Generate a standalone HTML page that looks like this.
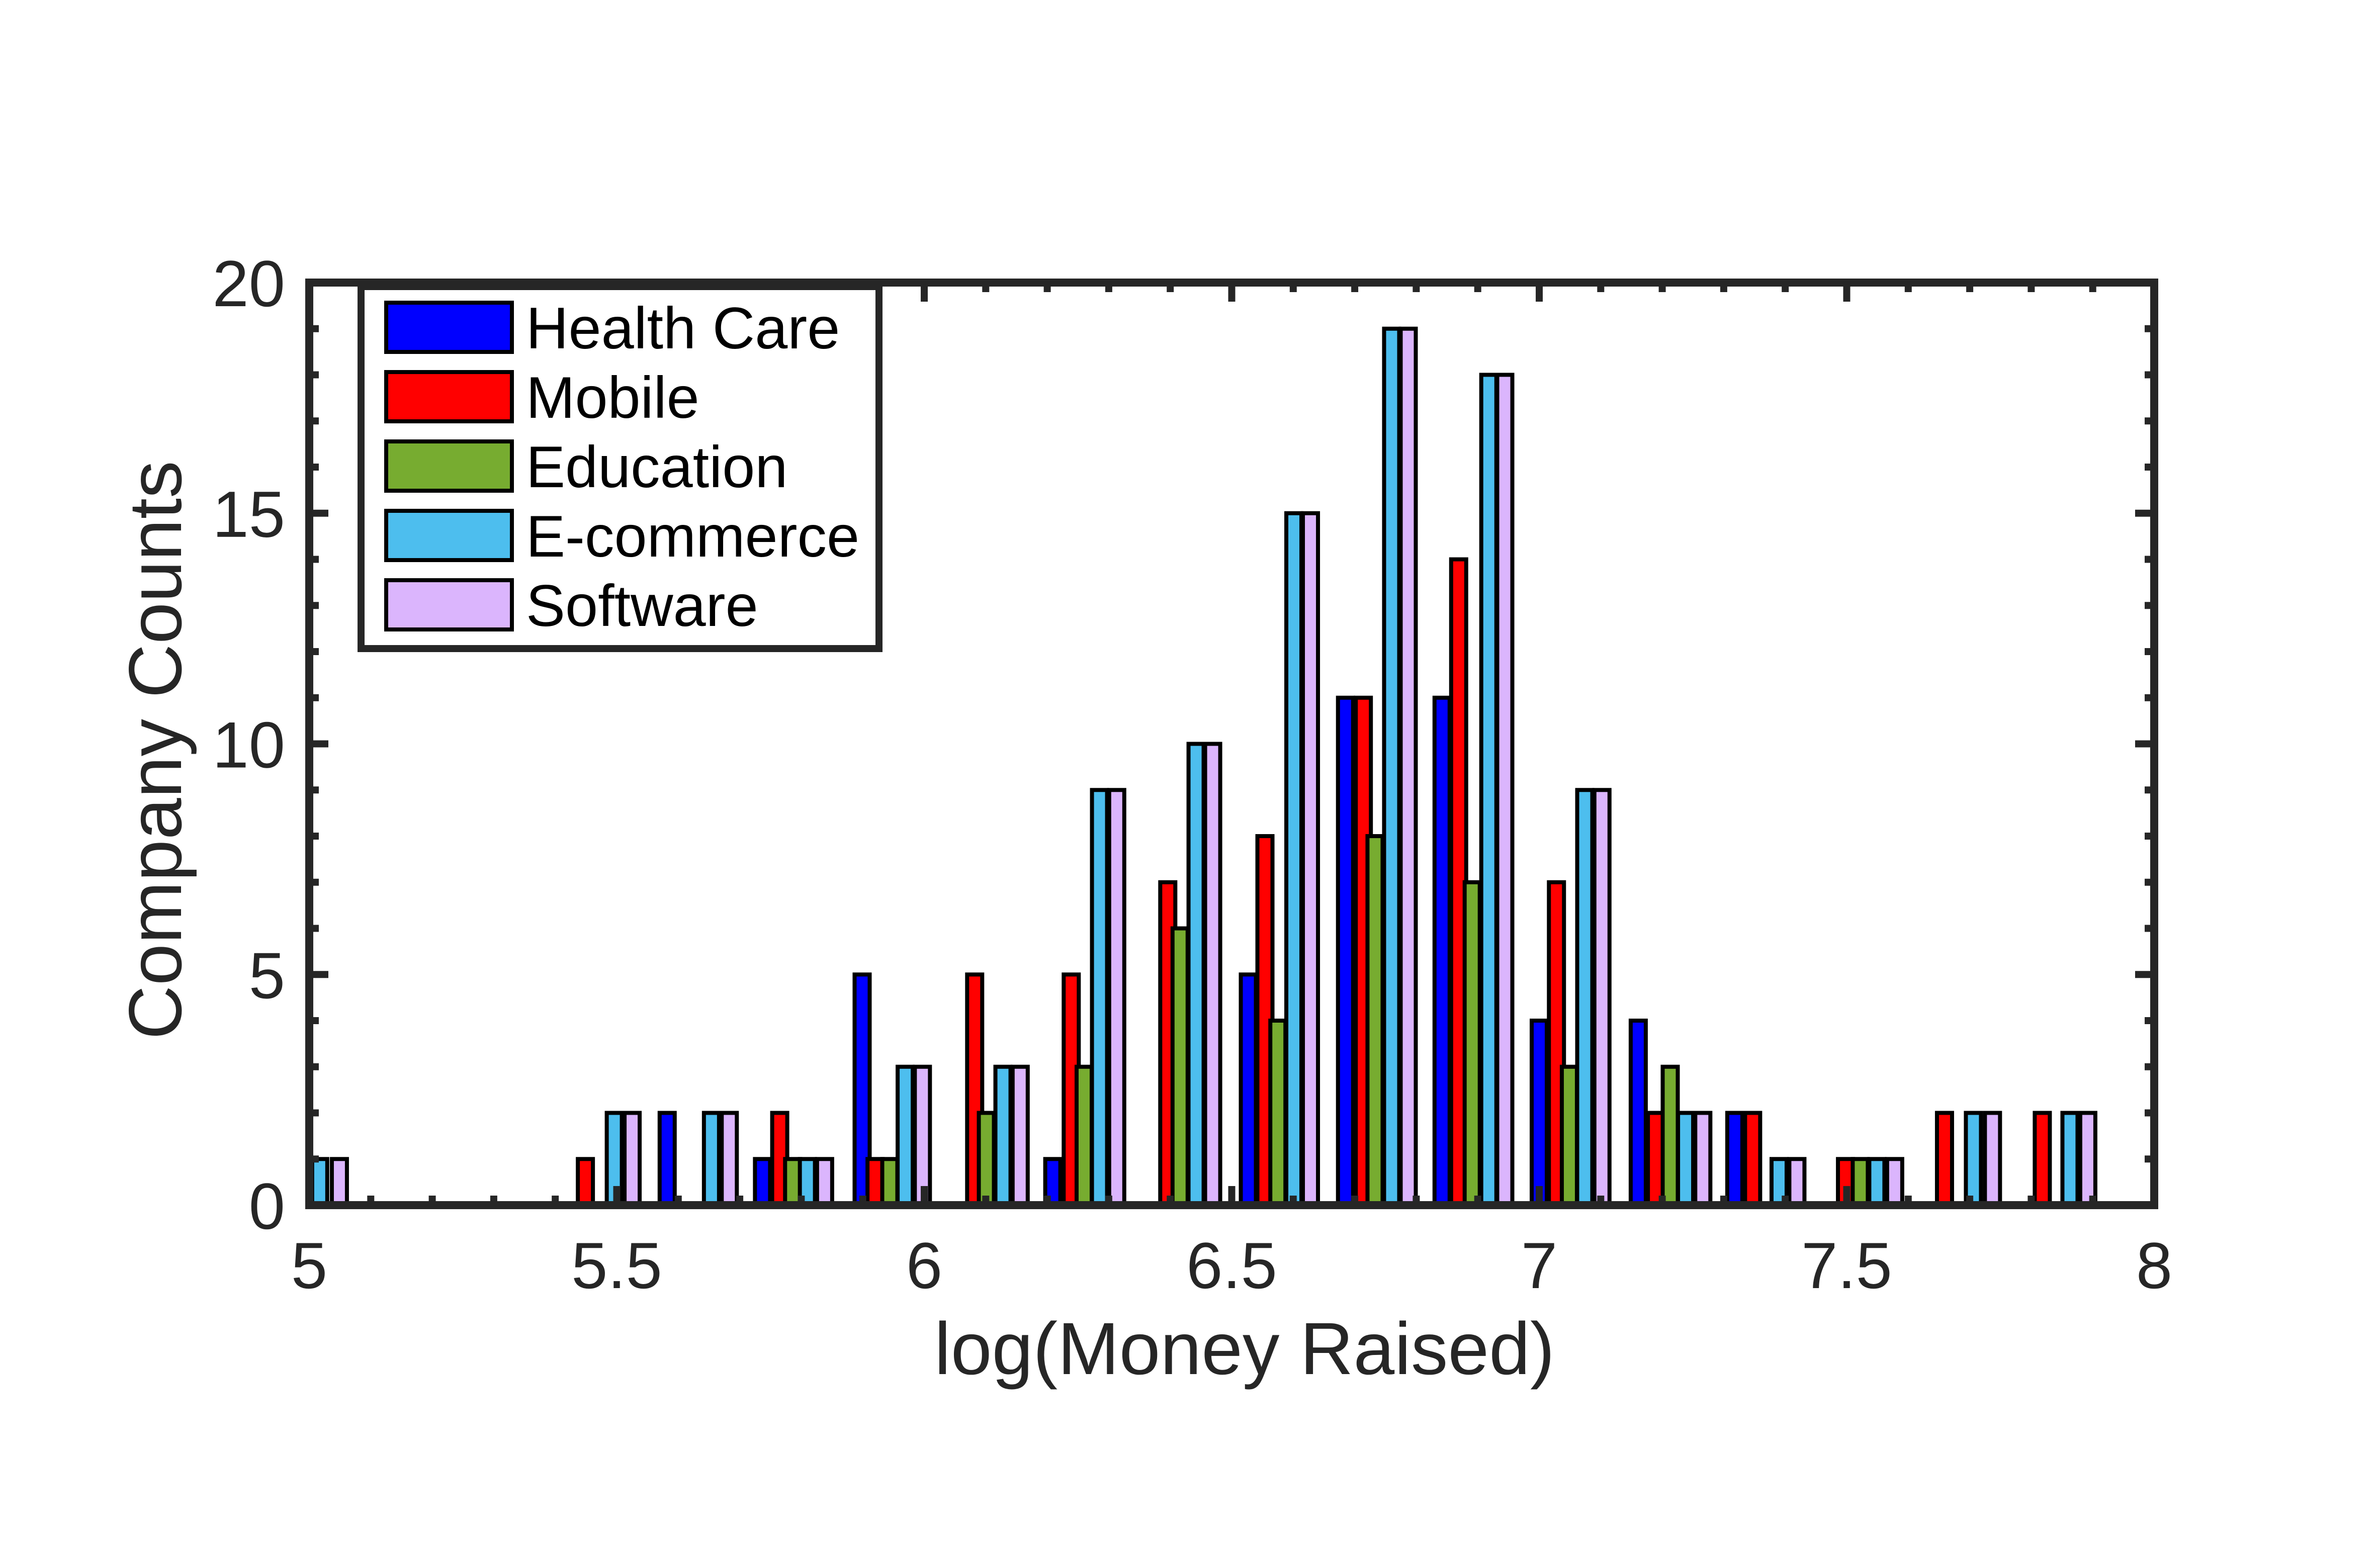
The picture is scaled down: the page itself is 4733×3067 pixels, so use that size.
<!DOCTYPE html>
<html><head><meta charset="utf-8"><style>html,body{margin:0;padding:0;background:#fff}svg{display:block}</style></head>
<body>
<svg id="chart" width="4733" height="3067" viewBox="0 0 4733 3067" xmlns="http://www.w3.org/2000/svg" font-family="'Liberation Sans', Arial, sans-serif">
<rect x="0" y="0" width="4733" height="3067" fill="#fff"/>
<g id="bars"></g>
<g id="axes"></g>
<g id="legend"></g>
</svg>
<script>
const seriesNames = ["Health Care","Mobile","Education","E-commerce","Software"];
const seriesColors = ["#0000ff","#ff0000","#77ac30","#4dbeee","#dbb5fd"];
const healthX = [5.582,5.737,5.899,6.209,6.527,6.685,6.842,7.000,7.161,7.318];
const healthY = [2,1,5,1,5,11,11,4,4,2];
const mobileX = [5.449,5.765,5.920,6.082,6.239,6.396,6.554,6.714,6.869,7.028,7.189,7.347,7.498,7.659,7.818];
const mobileY = [1,2,1,5,5,7,8,11,14,7,2,2,1,2,2];
const eduX = [5.786,5.944,6.101,6.260,6.416,6.575,6.733,6.891,7.049,7.213,7.522];
const eduY = [1,1,2,3,6,4,8,7,3,3,1];
const ecomX = [5.017,5.496,5.654,5.810,5.969,6.128,6.285,6.442,6.601,6.760,6.918,7.074,7.238,7.390,7.549,7.706,7.863];
const ecomY = [1,2,2,1,3,3,9,10,15,19,18,9,2,1,1,2,2];
const softX = [5.049,5.525,5.683,5.838,5.997,6.156,6.313,6.469,6.628,6.787,6.944,7.102,7.266,7.419,7.578,7.737,7.892];
const softY = [1,2,2,1,3,3,9,10,15,19,18,9,2,1,1,2,2];
const xTicks = [5,5.5,6,6.5,7,7.5,8];
const xTickLabels = ["5","5.5","6","6.5","7","7.5","8"];
const yTicks = [0,5,10,15,20];
const yTickLabels = ["0","5","10","15","20"];

const NS = "http://www.w3.org/2000/svg";
const L = 615, R = 4284, T = 562, B = 2397;
const xMin = 5, xMax = 8, yMin = 0, yMax = 20;
function sx(v){ return L + (v - xMin) / (xMax - xMin) * (R - L); }
function sy(v){ return B - (v - yMin) / (yMax - yMin) * (B - T); }
function mk(tag, attrs, parent){ const e = document.createElementNS(NS, tag); for (const k in attrs) e.setAttribute(k, attrs[k]); parent.appendChild(e); return e; }

const barsG = document.getElementById("bars");
const allX = [healthX, mobileX, eduX, ecomX, softX];
const allY = [healthY, mobileY, eduY, ecomY, softY];
const barW = 30;
for (let s = 0; s < 5; s++) {
  for (let i = 0; i < allX[s].length; i++) {
    const cx = sx(allX[s][i]);
    const yTop = sy(allY[s][i]);
    const r = mk("rect", {x: cx - barW/2, y: yTop, width: barW, height: B - yTop, fill: seriesColors[s], stroke: "#000", "stroke-width": 8}, barsG);
    
    
  }
}

const ax = document.getElementById("axes");
const col = "#262626";
for (let k = 0; k <= 30; k++) {
  const v = 5 + k * 0.1; const x = sx(v);
  const major = (k % 5 === 0);
  const len = major ? 38 : 19;
  const t1 = mk("line", {x1: x, y1: B, x2: x, y2: B - len, stroke: col, "stroke-width": 14}, ax);
  
  
  const t2 = mk("line", {x1: x, y1: T, x2: x, y2: T + len, stroke: col, "stroke-width": 14}, ax);
  
  
}
for (let k = 0; k <= 20; k++) {
  const y = sy(k); const major = (k % 5 === 0); const len = major ? 38 : 19;
  const t1 = mk("line", {x1: L, y1: y, x2: L + len, y2: y, stroke: col, "stroke-width": 14}, ax);
  
  
  const t2 = mk("line", {x1: R, y1: y, x2: R - len, y2: y, stroke: col, "stroke-width": 14}, ax);
  
  
}
const frame = mk("rect", {x: L, y: T, width: R - L, height: B - T, fill: "none", stroke: col, "stroke-width": 16}, ax);


for (let i = 0; i < xTicks.length; i++) {
  const t = mk("text", {x: sx(xTicks[i]), y: 2562, "text-anchor": "middle", "font-size": 130, fill: col}, ax);
  t.textContent = xTickLabels[i];
  
  
}
for (let i = 0; i < yTicks.length; i++) {
  const t = mk("text", {x: 567, y: sy(yTicks[i]) + 47, "text-anchor": "end", "font-size": 130, fill: col}, ax);
  t.textContent = yTickLabels[i];
  
  
}
const xt = mk("text", {x: 2475, y: 2733, "text-anchor": "middle", "font-size": 147, fill: col}, ax);
xt.textContent = "log(Money Raised)";


const yt = mk("text", {x: 0, y: 0, "text-anchor": "middle", "font-size": 149, fill: col, transform: "translate(360,1492) rotate(-90)"}, ax);
yt.textContent = "Company Counts";



const lg = document.getElementById("legend");
const lbox = mk("rect", {x: 718, y: 570, width: 1030, height: 720, fill: "#fff", stroke: col, "stroke-width": 14}, lg);


for (let s = 0; s < 5; s++) {
  const cy = 651 + s * 138;
  const g = mk("g", {}, lg);
  
  
  mk("rect", {x: 768, y: cy - 49, width: 250, height: 98, fill: seriesColors[s], stroke: "#000", "stroke-width": 8}, g);
  const t = mk("text", {x: 1046, y: cy + 42, "font-size": 117, fill: "#000"}, g);
  t.textContent = seriesNames[s];
}
</script>
</body></html>
